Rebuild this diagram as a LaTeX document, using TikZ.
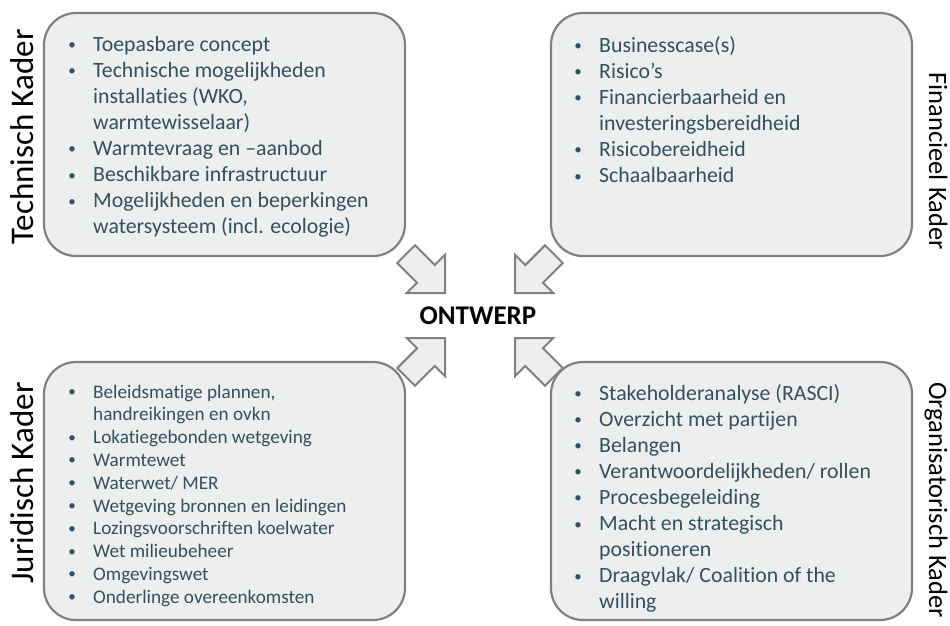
\documentclass[tikz,border=0pt]{standalone}
\usepackage{fontspec}
\setmainfont{Carlito}[Ligatures=NoCommon]
\definecolor{txt}{HTML}{33505E}
\definecolor{boxfill}{HTML}{EDEEEE}
\definecolor{boxline}{HTML}{808080}
\newcommand\B{\makebox[42pt][c]{\raisebox{1.5pt}{\fontsize{15}{15}\selectfont •}}}
\tikzset{
  kbox/.style={draw=boxline, fill=boxfill, line width=2.2pt, rounded corners=32pt, minimum width=361pt, inner sep=0pt},
  blockarrow/.style={draw=boxline, fill=boxfill, line width=2pt, line join=miter},
  biglist/.style={anchor=base west, inner sep=0pt, text=txt, font=\fontsize{21.8}{26.1}\selectfont},
  smalllist/.style={anchor=base west, inner sep=0pt, text=txt, font=\fontsize{19.2}{22.8}\selectfont},
  leftlabel/.style={rotate=90, anchor=base, inner sep=0pt, font=\fontsize{33}{40}\selectfont},
  rightlabel/.style={rotate=-90, anchor=base, inner sep=0pt, font=\fontsize{26.5}{32}\selectfont}
}
\begin{document}
\begin{tikzpicture}[x=1pt,y=-1pt]
\useasboundingbox (0,0) rectangle (950,625);
\fill[white] (0,0) rectangle (950,625);

% boxes
\node[kbox, minimum height=243pt] (tlbox) at (224.5,134.5) {};
\node[kbox, minimum height=243pt] (trbox) at (731.5,134.5) {};
\node[kbox, minimum height=258pt] (blbox) at (224.5,491) {};
\node[kbox, minimum height=258pt] (brbox) at (731.5,491) {};

% block arrows
\foreach \tx/\ty/\ang in {445/293/-45, 515/293/-135, 445/338/45, 515/338/135}{
  \begin{scope}[shift={(\tx,\ty)}, rotate=\ang]
    \draw[blockarrow] (0,0) -- (-27,27) -- (-27,12.5) -- (-55,12.5) -- (-55,-12.5) -- (-27,-12.5) -- (-27,-27) -- cycle;
  \end{scope}
}

\node[font=\fontsize{27}{32}\selectfont\bfseries, inner sep=0pt] (ontwerp) at (478,316) {ONTWERP};

% lists
\node[biglist] (tllist) at (51,51) {\begin{tabular}[t]{@{}l@{}l@{}}
\B & Toepasbare concept\\
\B & Technische mogelijkheden\\
 & installaties (WKO,\\
 & warmtewisselaar)\\
\B & Warmtevraag en –aanbod\\
\B & Beschikbare infrastructuur\\
\B & Mogelijkheden en beperkingen\\
 & watersysteem (incl. ecologie)
\end{tabular}};

\node[biglist] (trlist) at (557,52) {\begin{tabular}[t]{@{}l@{}l@{}}
\B & Businesscase(s)\\
\B & Risico’s\\
\B & Financierbaarheid en\\
 & investeringsbereidheid\\
\B & Risicobereidheid\\
\B & Schaalbaarheid
\end{tabular}};

\node[smalllist] (bllist) at (51,398) {\begin{tabular}[t]{@{}l@{}l@{}}
\B & Beleidsmatige plannen,\\
 & handreikingen en ovkn\\
\B & Lokatiegebonden wetgeving\\
\B & Warmtewet\\
\B & Waterwet/ MER\\
\B & Wetgeving bronnen en leidingen\\
\B & Lozingsvoorschriften koelwater\\
\B & Wet milieubeheer\\
\B & Omgevingswet\\
\B & Onderlinge overeenkomsten
\end{tabular}};

\node[biglist] (brlist) at (557,400) {\begin{tabular}[t]{@{}l@{}l@{}}
\B & Stakeholderanalyse (RASCI)\\
\B & Overzicht met partijen\\
\B & Belangen\\
\B & Verantwoordelijkheden/ rollen\\
\B & Procesbegeleiding\\
\B & Macht en strategisch\\
 & positioneren\\
\B & Draagvlak/ Coalition of the\\
 & willing
\end{tabular}};

% side labels
\node[leftlabel] (tech) at (33,137) {Technisch Kader};
\node[leftlabel] (jur) at (33,483) {Juridisch Kader};
\node[rightlabel] (fin) at (929,161) {Financieel Kader};
\node[rightlabel] (org) at (929,500) {Organisatorisch Kader};
\end{tikzpicture}
\end{document}
